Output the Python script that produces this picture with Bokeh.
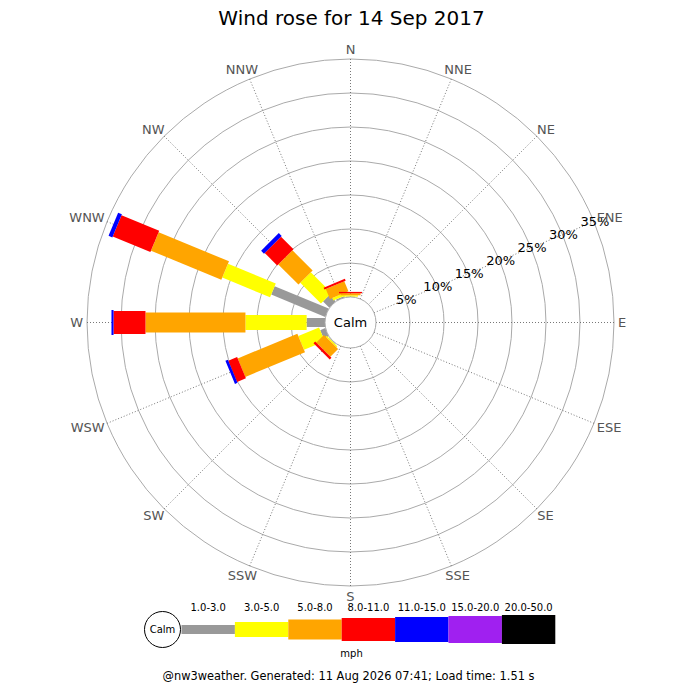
import numpy as np
from bokeh.plotting import figure
from bokeh.models import Range1d
from bokeh.core.properties import value
from bokeh.embed import file_html
from bokeh.resources import INLINE

# ---------------- data ----------------
title_text = "Wind rose for 14 Sep 2017"
directions = ["N", "NNE", "NE", "ENE", "E", "ESE", "SE", "SSE",
              "S", "SSW", "SW", "WSW", "W", "WNW", "NW", "NNW"]
band_labels = ["1.0-3.0", "3.0-5.0", "5.0-8.0", "8.0-11.0",
               "11.0-15.0", "15.0-20.0", "20.0-50.0"]
band_colors = ["#999999", "#ffff00", "#ffa500", "#ff0000",
               "#0000ff", "#a020f0", "#000000"]
# percent of time per direction, per speed band (mph)
pct_1_3   = [0.05, 0, 0, 0, 0, 0, 0, 0, 0, 0, 0.1, 0.8, 2.7, 8.6, 1.3, 0.2]
pct_3_5   = [0.2, 0, 0, 0, 0, 0, 0, 0, 0, 0, 0.2, 3.3, 9.0, 7.6, 4.3, 0.4]
pct_5_8   = [0.3, 0, 0, 0, 0, 0, 0, 0, 0, 0, 1.6, 9.5, 14.7, 11.2, 4.2, 1.6]
pct_8_11  = [0.2, 0, 0, 0, 0, 0, 0, 0, 0, 0, 0.35, 1.4, 4.7, 6.0, 2.6, 0.3]
pct_11_15 = [0, 0, 0, 0, 0, 0, 0, 0, 0, 0, 0, 0.4, 0.3, 0.6, 0.6, 0]
pct_15_20 = [0] * 16
pct_20_50 = [0] * 16
ring_pcts = [5, 10, 15, 20, 25, 30, 35]
ring_labels = ["5%", "10%", "15%", "20%", "25%", "30%", "35%"]
calm_label = "Calm"
unit_label = "mph"
footer_text = "@nw3weather. Generated: 11 Aug 2026 07:41; Load time: 1.51 s"

bands = [pct_1_3, pct_3_5, pct_5_8, pct_8_11, pct_11_15, pct_15_20, pct_20_50]

# ---------------- layout / style ----------------
R0 = 25.5          # calm circle radius
K = 6.8            # units per percent
band_w = [9, 15, 20, 23, 25, 27, 29]
FONT = value("DejaVu Sans")

p = figure(width=684, height=684, x_range=Range1d(-350, 334), y_range=Range1d(-362, 322),
           output_backend="svg", toolbar_location=None, x_axis_type=None, y_axis_type=None,
           min_border=0, outline_line_color=None, background_fill_color="white",
           border_fill_color="white")

theta = np.deg2rad(np.arange(16) * 22.5)
sx, sy = np.sin(theta), np.cos(theta)
R_out = R0 + K * ring_pcts[-1]

# rings
ring_r = [R0 + K * v for v in ring_pcts]
p.circle(x=[0] * len(ring_r), y=[0] * len(ring_r), radius=ring_r,
         fill_color=None, line_color="#aaaaaa", line_width=1)

# spokes
p.segment(x0=list(R0 * sx), y0=list(R0 * sy), x1=list(R_out * sx), y1=list(R_out * sy),
          line_color="#555555", line_width=0.8, line_dash="1 2")

# bars
cum = np.zeros(16)
for b, vals in enumerate(bands):
    xs, ys, ws, angs = [], [], [], []
    for i, v in enumerate(vals):
        if v <= 0:
            continue
        r0 = R0 + K * cum[i]
        r1 = R0 + K * (cum[i] + v)
        cum[i] += v
        rc = (r0 + r1) / 2
        xs.append(rc * sx[i]); ys.append(rc * sy[i])
        ws.append(r1 - r0); angs.append(np.pi / 2 - theta[i])
    if xs:
        p.rect(x=xs, y=ys, width=ws, height=band_w[b], angle=angs,
               fill_color=band_colors[b], line_color=None)

# calm circle
p.circle(x=[0], y=[0], radius=[R0], fill_color="white", line_color="#aaaaaa", line_width=1)
p.text(x=[0], y=[0], text=[calm_label], text_font=FONT, text_font_size="13px",
       text_align="center", text_baseline="middle", text_color="black")

# ring labels along ENE
ang_l = np.deg2rad(67.5)
p.text(x=[(r + 1) * np.sin(ang_l) for r in ring_r], y=[(r + 1) * np.cos(ang_l) for r in ring_r],
       text=ring_labels, text_font=FONT, text_font_size="13px",
       text_align="center", text_baseline="middle", text_color="black")

# direction labels
em = {"N": 0.748, "E": 0.632, "S": 0.635, "W": 0.989}
lx, ly = [], []
for i, d in enumerate(directions):
    w = sum(em[c] for c in d) * 13
    gap = 4
    lx.append((R_out + gap) * sx[i] + w / 2 * sx[i])
    ly.append((R_out + gap) * sy[i] + 6 * sy[i])
p.text(x=lx, y=ly, text=directions, text_font=FONT, text_font_size="13px",
       text_align="center", text_baseline="middle", text_color="#555555")

# title
p.text(x=[1], y=[305], text=[title_text], text_font=FONT, text_font_size="20px",
       text_align="center", text_baseline="middle", text_color="black")

# legend
LX0, LY, SEG = -169, -307, 53.4
p.circle(x=[-188], y=[LY], radius=[18], fill_color="white", line_color="black", line_width=1)
p.text(x=[-188], y=[LY], text=[calm_label], text_font=FONT, text_font_size="10px",
       text_align="center", text_baseline="middle", text_color="black")
seg_x = [LX0 + SEG * (k + 0.5) for k in range(len(band_labels))]
p.rect(x=seg_x, y=[LY] * len(seg_x), width=SEG, height=band_w, fill_color=band_colors,
       line_color=None)
p.text(x=seg_x, y=[-284.7] * len(seg_x), text=band_labels, text_font=FONT,
       text_font_size="10px", text_align="center", text_baseline="middle", text_color="black")
p.text(x=[1], y=[-331.3], text=[unit_label], text_font=FONT, text_font_size="10px",
       text_align="center", text_baseline="middle", text_color="black")

# footer
p.text(x=[-2], y=[-353], text=[footer_text], text_font=FONT, text_font_size="11.4px",
       text_align="center", text_baseline="middle", text_color="black")

open("out.html", "w").write(file_html(p, INLINE))
